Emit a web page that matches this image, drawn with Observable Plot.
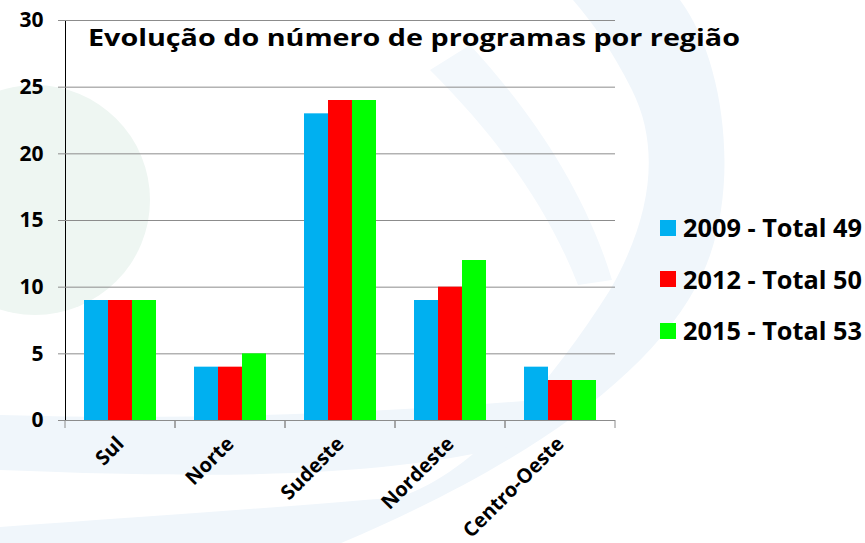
<!DOCTYPE html>
<html>
<head>
<meta charset="utf-8">
<script src="https://cdn.jsdelivr.net/npm/d3@7"></script>
<script src="https://cdn.jsdelivr.net/npm/@observablehq/plot@0.6"></script>
<style>
  body { margin: 0; background: #fff; }
  #wrap { position: relative; width: 865px; height: 543px; overflow: hidden; font-family: "Open Sans", sans-serif; }
  #bg, #chart { position: absolute; left: 0; top: 0; }
  #title { position: absolute; left: 88px; font-weight: 700; white-space: nowrap; line-height: 1; color: #000; transform-origin: 0 50%; }
  #legend { position: absolute; left: 660px; top: 202px; }
  .row { display: flex; align-items: center; height: 51.5px; }
  .sw { width: 16px; height: 16px; margin-right: 7px; }
  .lt { font-weight: 700; line-height: 1; white-space: nowrap; color: #000; }
  #chart svg g[aria-label^="y-axis"] text { font-size: 21px; }
  #chart svg g[aria-label^="fx-axis"] text { font-size: 20px; }
  #chart svg g[aria-label^="y-axis"] line, #chart svg g[aria-label^="y-axis"] path { stroke: #8c8c8c; }
</style>
</head>
<body>
<div id="wrap">
  <svg id="bg" width="865" height="543">
    <circle cx="35" cy="200" r="115" fill="#eef6f2"></circle>
    <path fill="#f0f6fb" d="M573,0 L680,0 C725,60 742,190 702,275 C650,385 500,480 300,560 L0,560 L0,527 C150,516 300,506 400,497 C480,470 560,370 610,290 C650,220 662,150 632,90 C612,50 592,22 573,0 Z"></path>
    <path fill="#f0f6fb" d="M0,415 C200,421 400,412 560,398 L520,445 C400,470 300,482 0,470 Z"></path>
    <path fill="#f3f8fc" d="M430,70 C490,130 545,200 578,285 L612,280 C585,190 530,110 470,45 Z"></path>
  </svg>
  <div id="chart"></div>
  <div id="title">Evolução do número de programas por região</div>
  <div id="legend"></div>
</div>
<script>
const regioes = ["Sul", "Norte", "Sudeste", "Nordeste", "Centro-Oeste"];
const anos = ["2009", "2012", "2015"];
const legendas = ["2009 - Total 49", "2012 - Total 50", "2015 - Total 53"];
const v2009 = [9, 4, 23, 9, 4];
const v2012 = [9, 4, 24, 10, 3];
const v2015 = [9, 5, 24, 12, 3];
const cores = ["#00B0F0", "#FF0000", "#00FF00"];
const yTicks = [0, 5, 10, 15, 20, 25, 30];

const series = [v2009, v2012, v2015];
const data = [];
regioes.forEach((r, i) => anos.forEach((a, j) => data.push({regiao: r, ano: a, valor: series[j][i]})));

const gridColor = "#8c8c8c";

function boundaryTicks(index, scales) {
  const x = scales.x, y = scales.y;
  const [r0, r1] = x.range();
  const y0 = y(0);
  const g = d3.create("svg:g").attr("stroke", gridColor);
  for (const xx of [r0, r1]) {
    g.append("line").attr("x1", xx).attr("x2", xx).attr("y1", y0).attr("y2", y0 + 8);
  }
  return g.node();
}

const chart = Plot.plot({
  width: 865,
  height: 543,
  marginLeft: 64,
  marginRight: 250,
  marginTop: 20,
  marginBottom: 123,
  style: { background: "transparent", fontFamily: "Open Sans", fontWeight: "bold", color: "#000" },
  facet: { data, x: "regiao" },
  fx: { domain: regioes, padding: 0, label: null, tickRotate: -45, tickSize: 0, tickPadding: 20, axis: "bottom" },
  x: { domain: anos, axis: null, paddingInner: 0, paddingOuter: 0.73 },
  y: { domain: [0, 30], ticks: yTicks, tickSize: 7, tickPadding: 15, label: null, line: true },
  color: { domain: anos, range: cores },
  marks: [
    Plot.ruleY(yTicks.slice(1), { stroke: gridColor }),
    Plot.barY(data, { x: "ano", y: "valor", fill: "ano" }),
    Plot.ruleY([0], { stroke: gridColor }),
    boundaryTicks
  ]
});
document.getElementById("chart").appendChild(chart);

// Title: height like the reference, then stretched to its width
const title = document.getElementById("title");
const tfs = 23;
title.style.fontSize = tfs + "px";
title.style.top = (46 - 0.888 * tfs) + "px";
const tw = title.getBoundingClientRect().width;
title.style.transform = `scaleX(${652 / tw})`;

const ctx = document.createElement("canvas").getContext("2d");
function fit(text, target) {
  ctx.font = "700 100px 'Open Sans'";
  return 100 * target / ctx.measureText(text).width;
}
const legend = document.getElementById("legend");
const lfs = fit(legendas[0], 179);
legendas.forEach((t, i) => {
  const row = document.createElement("div");
  row.className = "row";
  const sw = document.createElement("div");
  sw.className = "sw";
  sw.style.background = cores[i];
  const lt = document.createElement("div");
  lt.className = "lt";
  lt.style.fontSize = lfs + "px";
  lt.textContent = t;
  row.appendChild(sw); row.appendChild(lt);
  legend.appendChild(row);
});
</script>
</body>
</html>
